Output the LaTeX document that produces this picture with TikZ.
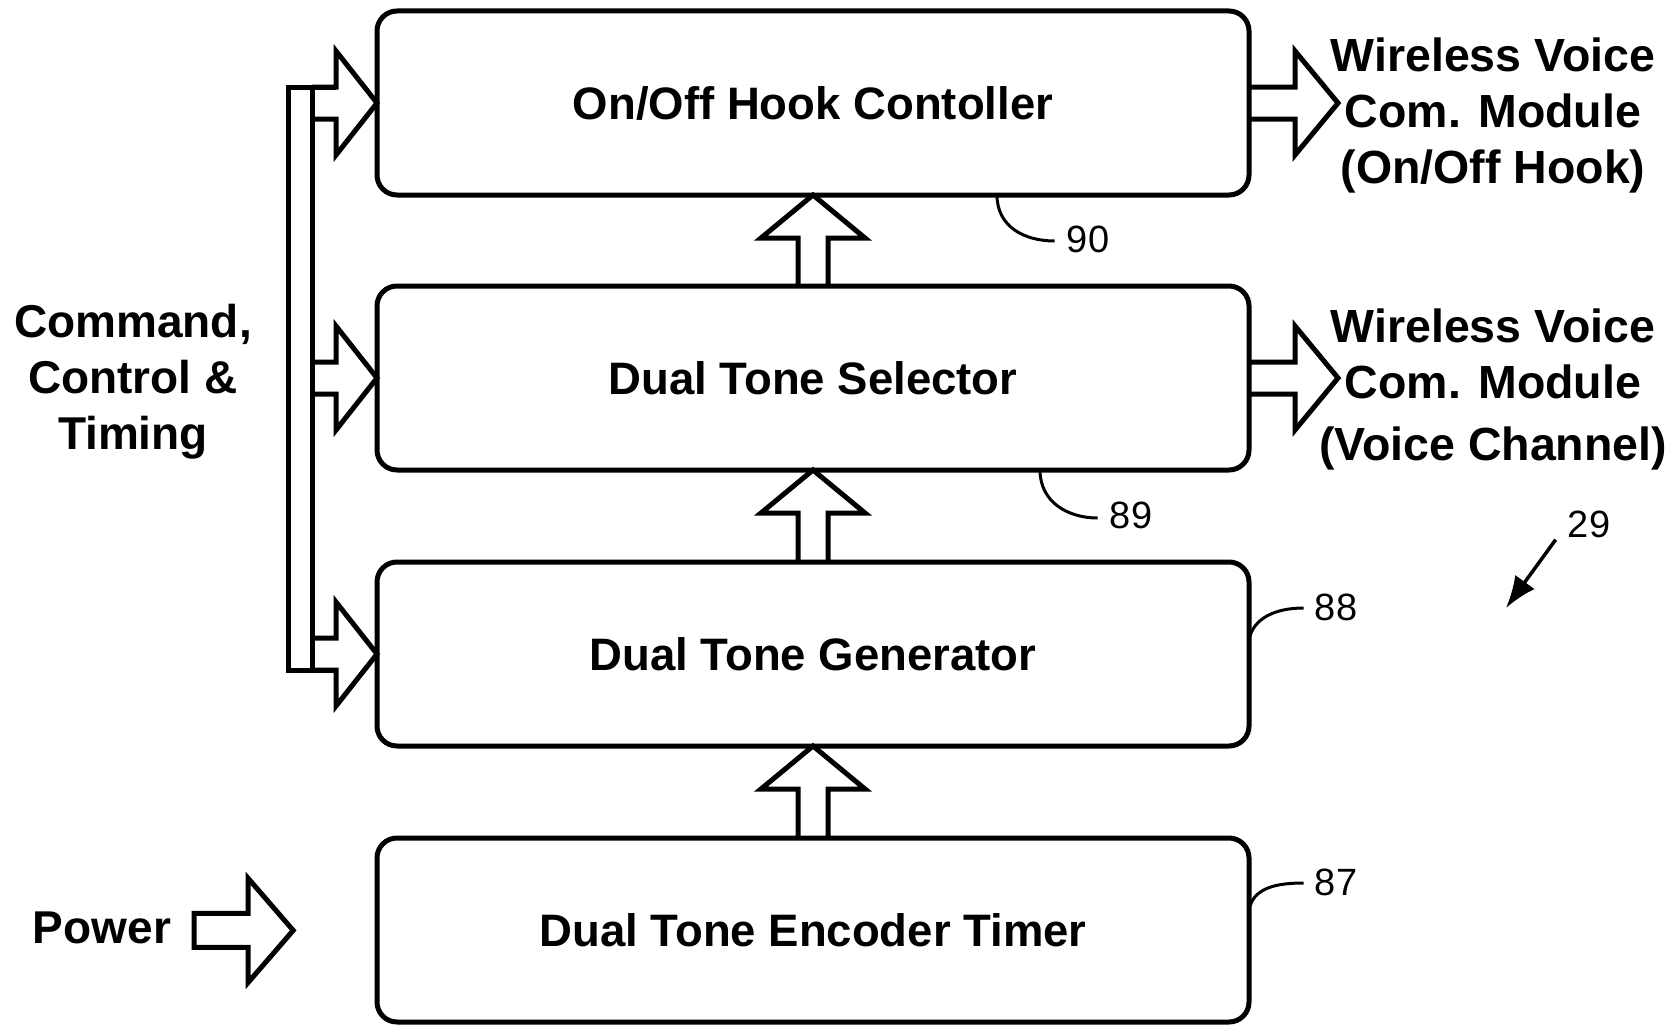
\documentclass[tikz,border=0pt]{standalone}
\usepackage{fontspec}
\setmainfont{Liberation Sans}
\usetikzlibrary{calc,arrows.meta}
\tikzset{
  box/.style={draw,rounded corners=20pt,line width=5pt,minimum width=872pt,minimum height=184pt,inner sep=0pt,outer sep=0pt,font=\fontsize{45.5}{51}\selectfont\bfseries},
  hollow/.style={draw,line width=5pt},
  lbl/.style={inner sep=0pt,align=center,font=\fontsize{46}{56}\selectfont\bfseries},
  refnum/.style={inner sep=0pt,font=\fontsize{38}{40}\selectfont},
  lead/.style={line width=3pt}
}
\newcommand{\stage}[3]{\node[box] (#1) at (813,#2) {#3};}
\newcommand{\busarrow}[1]{\draw[hollow] ($(#1.west)+(-65,16)$) -- ($(#1.west)+(-41,16)$) -- ($(#1.west)+(-41,52)$) -- (#1.west) -- ($(#1.west)+(-41,-52)$) -- ($(#1.west)+(-41,-16)$) -- ($(#1.west)+(-65,-16)$);}
\newcommand{\outblock}[1]{\draw[hollow] ($(#1.east)+(0,-16)$) -- ($(#1.east)+(46,-16)$) -- ($(#1.east)+(46,-52)$) -- ($(#1.east)+(89,0)$) -- ($(#1.east)+(46,52)$) -- ($(#1.east)+(46,16)$) -- ($(#1.east)+(0,16)$);}
\newcommand{\upblock}[2]{\draw[hollow] ($(#1.north)+(-15,0)$) -- ($(#2.south)+(-15,43)$) -- ($(#2.south)+(-52,43)$) -- (#2.south) -- ($(#2.south)+(52,43)$) -- ($(#2.south)+(15,43)$) -- ($(#1.north)+(15,0)$);}

\begin{document}
\begin{tikzpicture}[x=1pt,y=-1pt]
    \useasboundingbox (0,0) rectangle (1676,1025);
    \stage{hook}{103}{On/Off Hook Contoller}
    \stage{sel}{378}{Dual Tone Selector}
    \stage{gen}{654}{Dual Tone Generator}
    \stage{enc}{930}{Dual Tone Encoder Timer}
    \upblock{sel}{hook} \upblock{gen}{sel} \upblock{enc}{gen}

    % command bus on the left
    \node[lbl,anchor=north] (cmd) at (133,304) {Command,\\Control \&\\Timing};
    \draw[hollow] ($(hook.west)+(-41,-16)$) -- ($(hook.west)+(-89,-16)$) -- ($(gen.west)+(-89,16)$) -- ($(gen.west)+(-41,16)$);
    \draw[hollow] ($(hook.west)+(-65,-16)$) -- ($(gen.west)+(-65,16)$);
    \busarrow{hook} \busarrow{sel} \busarrow{gen}

    % outputs
    \node[lbl,anchor=north,font=\fontsize{46.5}{56}\selectfont\bfseries] (wv1) at (1493,38) {Wireless Voice\\Com. Module\\(On/Off Hook)};
    \node[lbl,anchor=north,font=\fontsize{46.5}{56}\selectfont\bfseries] (wv2) at (1493,309) {Wireless Voice\\Com. Module\\[6pt](Voice Channel)};
    \outblock{hook} \outblock{sel}

    % power input
    \node[lbl,anchor=base] (pwr) at (102,943) {Power};
    \draw[hollow] ($(pwr.east)+(23,-14)$) -- ($(pwr.east)+(77,-14)$) -- ($(pwr.east)+(77,-49)$) -- ($(pwr.east)+(122,3)$) -- ($(pwr.east)+(77,55)$) -- ($(pwr.east)+(77,20)$) -- ($(pwr.east)+(23,20)$) -- cycle;

    % reference numerals
    \node[refnum] (n90) at (1088,239) {90}; \node[refnum] (n89) at (1131,515) {89};
    \node[refnum] (n88) at (1336,607) {88}; \node[refnum] (n87) at (1336,882) {87};
    \node[refnum] (n29) at (1589,524) {29};
    \draw[lead] ($(hook.south)+(184,0)$) .. controls +(0,32) and +(-30,0) .. ($(n90.west)+(-12,2)$);
    \draw[lead] ($(sel.south)+(227,0)$) .. controls +(0,32) and +(-30,0) .. ($(n89.west)+(-12,3)$);
    \draw[lead] ($(gen.east)+(0,-14)$) .. controls +(4,-22) and +(-28,0) .. ($(n88.west)+(-11,1)$);
    \draw[lead] ($(enc.east)+(0,-20)$) .. controls +(4,-22) and +(-28,0) .. ($(n87.west)+(-11,1)$);
    \coordinate (ptr) at (1506,608);
    \draw[lead,line width=3.5pt,-{Latex[length=32pt,width=24pt]}] ($(n29.south west)+(-12,2)$) -- (ptr);
\end{tikzpicture}
\end{document}
